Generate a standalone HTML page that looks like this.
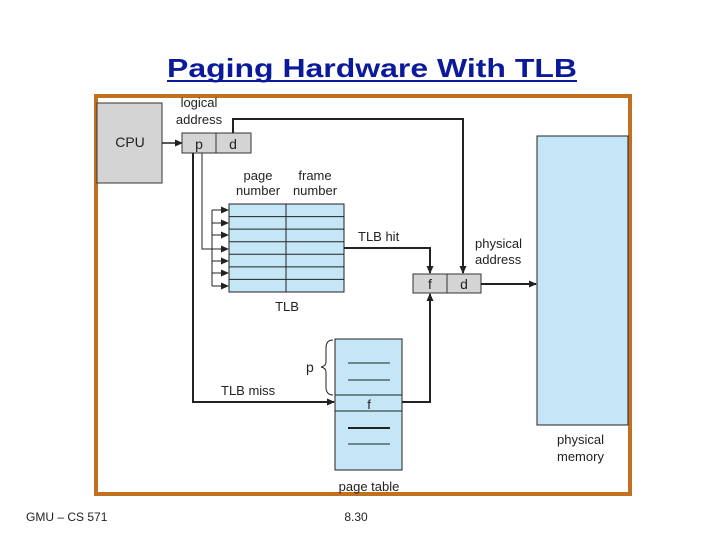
<!DOCTYPE html>
<html><head><meta charset="utf-8"><style>
body{margin:0;background:#fff;width:720px;height:540px;overflow:hidden}
svg text{font-family:"Liberation Sans",Arial,sans-serif;fill:#222}
</style></head><body>
<svg width="720" height="540" viewBox="0 0 720 540" xmlns="http://www.w3.org/2000/svg">
<defs><marker id="a" markerWidth="8" markerHeight="8" refX="7" refY="4" orient="auto" markerUnits="userSpaceOnUse"><path d="M0,0.5 L8,4 L0,7.5 Z" fill="#222"/></marker></defs>
<text x="167" y="77" font-size="26" font-weight="bold" textLength="410" lengthAdjust="spacingAndGlyphs" style="fill:#0b1a9a">Paging Hardware With TLB</text>
<line x1="167" y1="81" x2="577" y2="81" stroke="#0b1a9a" stroke-width="2"/>
<rect x="96" y="96" width="534" height="398" fill="none" stroke="#c0701f" stroke-width="4"/>
<rect x="97" y="103" width="65" height="80" fill="#d4d4d4" stroke="#333"/>
<text x="130" y="147" font-size="14" text-anchor="middle">CPU</text>
<text x="199" y="107" font-size="13" text-anchor="middle">logical</text>
<text x="199" y="124" font-size="13" text-anchor="middle">address</text>
<line x1="162" y1="143" x2="182" y2="143" stroke="#222" stroke-width="1.5" marker-end="url(#a)"/>
<rect x="182" y="133" width="69" height="20" fill="#d4d4d4" stroke="#333"/>
<line x1="216" y1="133" x2="216" y2="153" stroke="#333"/>
<text x="199" y="149" font-size="14" text-anchor="middle">p</text>
<text x="233" y="149" font-size="14" text-anchor="middle">d</text>
<polyline points="233,133 233,119 463,119 463,273" fill="none" stroke="#222" stroke-width="2" marker-end="url(#a)"/>
<polyline points="193,153 193,402 334,402" fill="none" stroke="#222" stroke-width="2" marker-end="url(#a)"/>
<polyline points="202,153 202,249 228,249" fill="none" stroke="#222" stroke-width="1" marker-end="url(#a)"/>
<line x1="212" y1="210" x2="212" y2="286" stroke="#222" stroke-width="1"/>
<g stroke="#222" stroke-width="1">
<line x1="212" y1="210" x2="228" y2="210" marker-end="url(#a)"/>
<line x1="212" y1="223" x2="228" y2="223" marker-end="url(#a)"/>
<line x1="212" y1="235" x2="228" y2="235" marker-end="url(#a)"/>
<line x1="212" y1="261" x2="228" y2="261" marker-end="url(#a)"/>
<line x1="212" y1="273" x2="228" y2="273" marker-end="url(#a)"/>
<line x1="212" y1="286" x2="228" y2="286" marker-end="url(#a)"/>
</g>
<text x="258" y="180" font-size="13" text-anchor="middle">page</text>
<text x="258" y="195" font-size="13" text-anchor="middle">number</text>
<text x="315" y="180" font-size="13" text-anchor="middle">frame</text>
<text x="315" y="195" font-size="13" text-anchor="middle">number</text>
<rect x="229" y="204" width="115" height="88" fill="#c4e6f6" stroke="#222"/>
<g stroke="#222" stroke-width="1">
<line x1="286" y1="204" x2="286" y2="292"/>
<line x1="229" y1="216.6" x2="344" y2="216.6"/>
<line x1="229" y1="229.1" x2="344" y2="229.1"/>
<line x1="229" y1="241.7" x2="344" y2="241.7"/>
<line x1="229" y1="254.3" x2="344" y2="254.3"/>
<line x1="229" y1="266.9" x2="344" y2="266.9"/>
<line x1="229" y1="279.4" x2="344" y2="279.4"/>
</g>
<text x="287" y="311" font-size="13" text-anchor="middle">TLB</text>
<text x="358" y="241" font-size="13">TLB hit</text>
<polyline points="344,248 430,248 430,273" fill="none" stroke="#222" stroke-width="2" marker-end="url(#a)"/>
<rect x="413" y="274" width="68" height="19" fill="#d4d4d4" stroke="#333"/>
<line x1="447" y1="274" x2="447" y2="293" stroke="#333"/>
<text x="430" y="289" font-size="14" text-anchor="middle">f</text>
<text x="464" y="289" font-size="14" text-anchor="middle">d</text>
<text x="475" y="248" font-size="13">physical</text>
<text x="475" y="264" font-size="13">address</text>
<line x1="481" y1="284" x2="536" y2="284" stroke="#222" stroke-width="2" marker-end="url(#a)"/>
<rect x="335" y="339" width="67" height="131" fill="#c4e6f6" stroke="#222"/>
<line x1="335" y1="395" x2="402" y2="395" stroke="#222"/>
<line x1="335" y1="411" x2="402" y2="411" stroke="#222"/>
<line x1="348" y1="363" x2="390" y2="363" stroke="#222"/>
<line x1="348" y1="380" x2="390" y2="380" stroke="#222"/>
<line x1="348" y1="428" x2="390" y2="428" stroke="#222" stroke-width="2"/>
<line x1="348" y1="444" x2="390" y2="444" stroke="#222"/>
<text x="369" y="409" font-size="13" text-anchor="middle">f</text>
<path d="M333,340 Q326,340 326,348 L326,362 Q326,366 321,367 Q326,368 326,372 L326,387 Q326,395 333,395" fill="none" stroke="#222" stroke-width="1"/>
<text x="306" y="372" font-size="14">p</text>
<text x="221" y="395" font-size="13">TLB miss</text>
<polyline points="402,402 430,402 430,294" fill="none" stroke="#222" stroke-width="2" marker-end="url(#a)"/>
<text x="369" y="491" font-size="13" text-anchor="middle">page table</text>
<rect x="537" y="136" width="91" height="289" fill="#c4e6f6" stroke="#222"/>
<text x="557" y="444" font-size="13">physical</text>
<text x="557" y="461" font-size="13">memory</text>
<text x="26" y="521" font-size="12">GMU – CS 571</text>
<text x="356" y="521" font-size="12" text-anchor="middle">8.30</text>
</svg>
</body></html>
